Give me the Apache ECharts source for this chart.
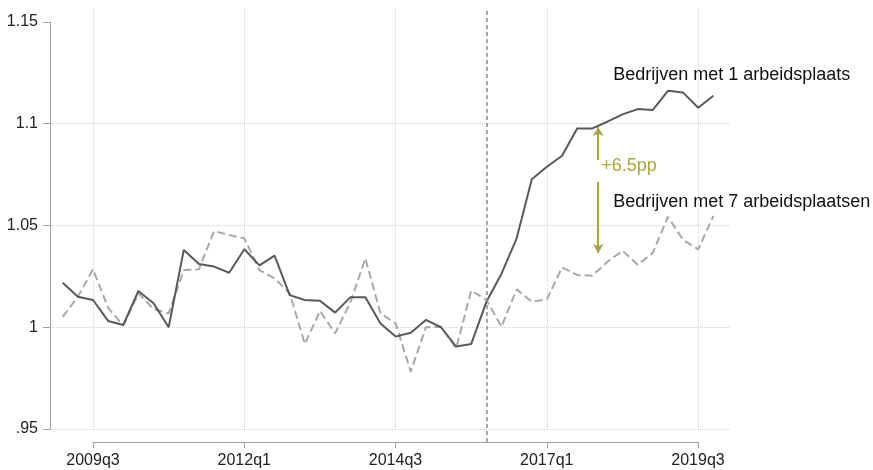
<!DOCTYPE html>
<html>
<head>
<meta charset="utf-8">
<script src="https://cdn.jsdelivr.net/npm/echarts@6/dist/echarts.min.js"></script>
<style>html,body{margin:0;padding:0;background:#fff}#c{width:873px;height:470px}</style>
</head>
<body>
<div id="c"></div>
<script>
// Quarters 2009q1 .. 2019q4
const quarters = [];
for (let y = 2009; y <= 2019; y++) for (let q = 1; q <= 4; q++) quarters.push(y + 'q' + q);

const yTicks = ['.95', '1', '1.05', '1.1', '1.15'];

// Bedrijven met 1 arbeidsplaats (solid)
const oneJob = [
  1.0219, 1.0150, 1.0134, 1.0031, 1.0011, 1.0178, 1.0118, 1.0000, 1.0380, 1.0311,
  1.0298, 1.0268, 1.0383, 1.0304, 1.0352, 1.0158, 1.0134, 1.0130, 1.0072, 1.0147,
  1.0147, 1.0019, 0.9954, 0.9973, 1.0036, 1.0000, 0.9905, 0.9918, 1.0125, 1.0263,
  1.0437, 1.0727, 1.0789, 1.0843, 1.0977, 1.0977, 1.1010, 1.1046, 1.1072, 1.1068,
  1.1162, 1.1153, 1.1079, 1.1138
];

// Bedrijven met 7 arbeidsplaatsen (dashed)
const sevenJobs = [
  1.0052, 1.0150, 1.0285, 1.0095, 1.0008, 1.0167, 1.0090, 1.0068, 1.0281, 1.0285,
  1.0473, 1.0453, 1.0437, 1.0281, 1.0240, 1.0167, 0.9918, 1.0080, 0.9970, 1.0120,
  1.0339, 1.0068, 1.0019, 0.9782, 1.0000, 1.0003, 0.9896, 1.0180, 1.0134, 1.0003,
  1.0186, 1.0126, 1.0137, 1.0294, 1.0257, 1.0253, 1.0322, 1.0376, 1.0307, 1.0366,
  1.0543, 1.0429, 1.0383, 1.0547
];

const policyQuarter = '2016q1';
const labelOne = 'Bedrijven met 1 arbeidsplaats';
const labelSeven = 'Bedrijven met 7 arbeidsplaatsen';
const gapLabel = '+6.5pp';

const toPairs = arr => arr.map((v, i) => [i, v]);
const font = '"Liberation Sans", Arial, sans-serif';
const olive = '#a8a63e';
const policyIdx = quarters.indexOf(policyQuarter);

const chart = echarts.init(document.getElementById('c'), null, {renderer: 'canvas'});
chart.setOption({
  animation: false,
  backgroundColor: '#fff',
  textStyle: {fontFamily: font},
  grid: [
    {left: 50, right: 143, top: 22, bottom: 41},
    {left: 93, right: 175, top: 8, bottom: 41},
    {left: 93, right: 175, top: 8, bottom: 28}
  ],
  xAxis: [
    {gridIndex: 0, type: 'value', min: -0.843, max: 44.1, show: false, axisLine: {onZero: false}},
    {
      gridIndex: 1, type: 'value', min: 2, max: 42, interval: 10,
      position: 'bottom', offset: 13,
      axisLine: {show: true, onZero: false, lineStyle: {color: '#a0a0a0', width: 1}},
      axisTick: {show: true, inside: false, length: 6, lineStyle: {color: '#a0a0a0'}},
      axisLabel: {margin: 11, color: '#222', fontSize: 16, fontFamily: font,
        formatter: v => quarters[v]},
      splitLine: {show: true, lineStyle: {color: '#d4d4d4', type: 'dotted', width: 1}}
    },
    {gridIndex: 2, type: 'value', min: 2, max: 42, show: false}
  ],
  yAxis: [
    {
      gridIndex: 0, type: 'value', min: 0.95, max: 1.15, interval: 0.05,
      position: 'left',
      axisLine: {show: true, onZero: false, lineStyle: {color: '#a0a0a0', width: 1}},
      axisTick: {show: true, inside: false, length: 7, lineStyle: {color: '#a0a0a0'}},
      axisLabel: {margin: 12, color: '#222', fontSize: 16, fontFamily: font,
        formatter: v => yTicks[Math.round((v - 0.95) / 0.05)]},
      splitLine: {show: true, showMaxLine: false, lineStyle: {color: '#d4d4d4', type: 'dotted', width: 1}}
    },
    {gridIndex: 1, type: 'value', min: 0, max: 1, show: false},
    {gridIndex: 2, type: 'value', min: 0, max: 1, show: false}
  ],
  series: [
    {
      name: labelSeven, type: 'line', xAxisIndex: 0, yAxisIndex: 0,
      data: toPairs(sevenJobs), symbol: 'none', z: 3,
      lineStyle: {color: '#a8a8a8', width: 2, type: [8, 4]}
    },
    {
      name: labelOne, type: 'line', xAxisIndex: 0, yAxisIndex: 0,
      data: toPairs(oneJob), symbol: 'none', z: 4,
      lineStyle: {color: '#595959', width: 2},
      markLine: {
        silent: true, symbolSize: [8, 9],
        lineStyle: {color: olive, width: 2, type: 'solid'},
        label: {show: false},
        data: [
          [{coord: [35.39, 1.0984], symbol: 'arrow'}, {coord: [35.39, 1.0822], symbol: 'none'}],
          [{coord: [35.39, 1.0714], symbol: 'none'}, {coord: [35.39, 1.0365], symbol: 'arrow'}]
        ]
      },
      markPoint: {
        silent: true, symbol: 'circle', symbolSize: 0,
        data: [
          {coord: [35.59, 1.0792], label: {show: true, position: 'right', distance: 0,
            formatter: gapLabel, color: olive, fontSize: 18, fontFamily: font}},
          {coord: [36.38, 1.1240], label: {show: true, position: 'right', distance: 0,
            formatter: labelOne, color: '#111', fontSize: 18, fontFamily: font}},
          {coord: [36.38, 1.0615], label: {show: true, position: 'right', distance: 0,
            formatter: labelSeven, color: '#111', fontSize: 18, fontFamily: font}}
        ]
      }
    },
    {
      type: 'line', xAxisIndex: 1, yAxisIndex: 1, data: [], symbol: 'none'
    },
    {
      type: 'line', xAxisIndex: 2, yAxisIndex: 2, data: [], symbol: 'none',
      markLine: {
        silent: true, symbol: 'none', label: {show: false},
        lineStyle: {color: '#8a8a8a', width: 1.5, type: [4, 3]},
        data: [{xAxis: policyIdx}]
      }
    }
  ]
});
</script>
</body>
</html>
